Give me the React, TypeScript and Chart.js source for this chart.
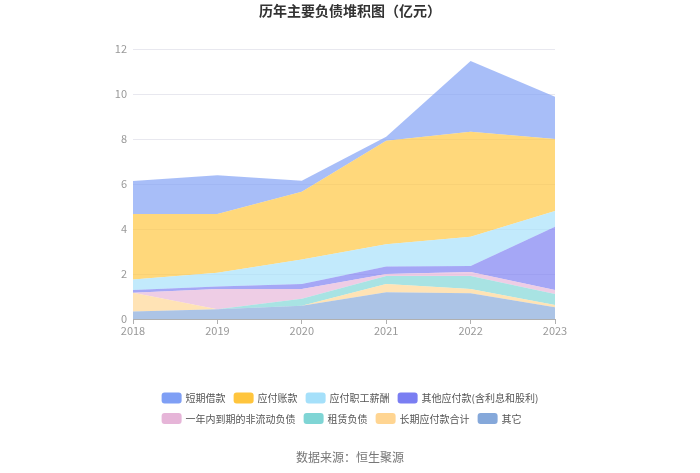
import React, { useEffect, useRef } from "react";
import { Chart, registerables } from "chart.js";

Chart.register(...registerables);

const titleText = "历年主要负债堆积图（亿元）";
const sourceText = "数据来源：恒生聚源";

const years = ["2018", "2019", "2020", "2021", "2022", "2023"];
const yTicks = [0, 2, 4, 6, 8, 10, 12];

// bottom-to-top stacking order
const others = [0.33, 0.43, 0.59, 1.19, 1.14, 0.52];
const longTermPayables = [0.84, 0, 0, 0.37, 0.19, 0.1];
const leaseLiabilities = [0, 0, 0.31, 0.35, 0.58, 0.49];
const currentNonCurrent = [0, 0.9, 0.43, 0.09, 0.18, 0.18];
const otherPayables = [0.12, 0.12, 0.23, 0.33, 0.27, 2.81];
const staffPayables = [0.47, 0.61, 1.09, 0.99, 1.3, 0.7];
const accountsPayable = [2.91, 2.61, 3.01, 4.6, 4.66, 3.2];
const shortLoans = [1.46, 1.72, 0.49, 0.18, 3.15, 1.88];

const seriesNames = [
  "其它",
  "长期应付款合计",
  "租赁负债",
  "一年内到期的非流动负债",
  "其他应付款(含利息和股利)",
  "应付职工薪酬",
  "应付账款",
  "短期借款",
];
const seriesData = [
  others,
  longTermPayables,
  leaseLiabilities,
  currentNonCurrent,
  otherPayables,
  staffPayables,
  accountsPayable,
  shortLoans,
];
const seriesColors = [
  "#85a8da",
  "#ffd592",
  "#7fd5d5",
  "#e6b5d8",
  "#7a7ef2",
  "#a5e0fa",
  "#ffc53d",
  "#7f9ff5",
];

const FONT = '"Noto Sans CJK SC", "Noto Sans", sans-serif';

function hexToRgba(hex: string, a: number) {
  const n = parseInt(hex.slice(1), 16);
  return `rgba(${(n >> 16) & 255},${(n >> 8) & 255},${n & 255},${a})`;
}

const decorPlugin = {
  id: "decor",
  afterDraw(chart: any) {
    const ctx = chart.ctx as CanvasRenderingContext2D;
    const W = chart.width;
    ctx.save();
    // title
    ctx.font = `bold 14px ${FONT}`;
    ctx.fillStyle = "#333333";
    ctx.textAlign = "center";
    ctx.textBaseline = "middle";
    ctx.fillText(titleText, W / 2, 11);

    // legend (top-to-bottom order)
    ctx.font = `10px ${FONT}`;
    const items = seriesNames
      .map((name, i) => ({ name, color: seriesColors[i] }))
      .reverse();
    const boxW = 20;
    const boxH = 11;
    const textGap = 4;
    const itemGap = 8;
    const maxRow = 400;
    const rows: { name: string; color: string; w: number }[][] = [[]];
    let rowW = 0;
    items.forEach((it) => {
      const w = boxW + textGap + ctx.measureText(it.name).width;
      const cur = rows[rows.length - 1];
      const add = cur.length ? itemGap + w : w;
      if (cur.length && rowW + add > maxRow) {
        rows.push([{ ...it, w }]);
        rowW = w;
      } else {
        cur.push({ ...it, w });
        rowW += add;
      }
    });
    const widths = rows.map((r) =>
      r.reduce((s, it, i) => s + it.w + (i ? itemGap : 0), 0)
    );
    const blockW = Math.max(...widths);
    const startX = W / 2 - blockW / 2;
    rows.forEach((r, ri) => {
      const cy = 398 + ri * 20.5;
      let x = startX;
      r.forEach((it) => {
        ctx.fillStyle = it.color;
        ctx.beginPath();
        (ctx as any).roundRect(x, cy - boxH / 2, boxW, boxH, 3);
        ctx.fill();
        ctx.fillStyle = "#555555";
        ctx.textAlign = "left";
        ctx.textBaseline = "middle";
        ctx.fillText(it.name, x + boxW + textGap, cy + 0.5);
        x += it.w + itemGap;
      });
    });

    // source
    ctx.font = `12px ${FONT}`;
    ctx.fillStyle = "#777777";
    ctx.textAlign = "center";
    ctx.textBaseline = "middle";
    ctx.fillText(sourceText, W / 2, 457);
    ctx.restore();
  },
};

export default function App() {
  const ref = useRef<HTMLCanvasElement>(null);

  useEffect(() => {
    if (!ref.current) return;
    const chart = new Chart(ref.current, {
      type: "line",
      data: {
        labels: years,
        datasets: seriesData.map((d, i) => ({
          label: seriesNames[i],
          data: d,
          backgroundColor: hexToRgba(seriesColors[i], 0.68),
          borderColor: "rgba(0,0,0,0)",
          borderWidth: 0,
          pointRadius: 0,
          pointHoverRadius: 0,
          tension: 0,
          fill: i === 0 ? "origin" : "-1",
        })),
      },
      options: {
        animation: false,
        responsive: false,
        maintainAspectRatio: false,
        layout: {
          padding: { top: 49, left: 93, right: 145, bottom: 132 },
        },
        plugins: {
          legend: { display: false },
          title: { display: false },
          tooltip: { enabled: false },
        },
        scales: {
          x: {
            stacked: true,
            offset: false,
            grid: {
              display: true,
              drawOnChartArea: false,
              drawTicks: true,
              tickLength: 5,
              color: "#b0b0b0",
            },
            border: { display: true, color: "#b0b0b0" },
            ticks: {
              color: "#999999",
              font: { size: 11, family: FONT },
              padding: 0,
              maxRotation: 0,
            },
            afterFit(scale: any) {
              scale.height = 22;
            },
          },
          y: {
            stacked: true,
            min: 0,
            max: 12,
            afterBuildTicks(scale: any) {
              scale.ticks = yTicks.map((v) => ({ value: v }));
            },
            grid: {
              color: "#e8e8ef",
              drawTicks: false,
            },
            border: { display: false },
            ticks: {
              color: "#999999",
              font: { size: 11, family: FONT },
              padding: 6,
            },
            afterFit(scale: any) {
              scale.width = 40;
            },
          },
        },
      },
      plugins: [decorPlugin],
    });
    return () => chart.destroy();
  }, []);

  return (
    <div
      style={{
        position: "absolute",
        left: 0,
        top: 0,
        width: 700,
        height: 473,
        background: "#ffffff",
      }}
    >
      <canvas ref={ref} width={700} height={473} style={{ width: 700, height: 473 }} />
    </div>
  );
}
